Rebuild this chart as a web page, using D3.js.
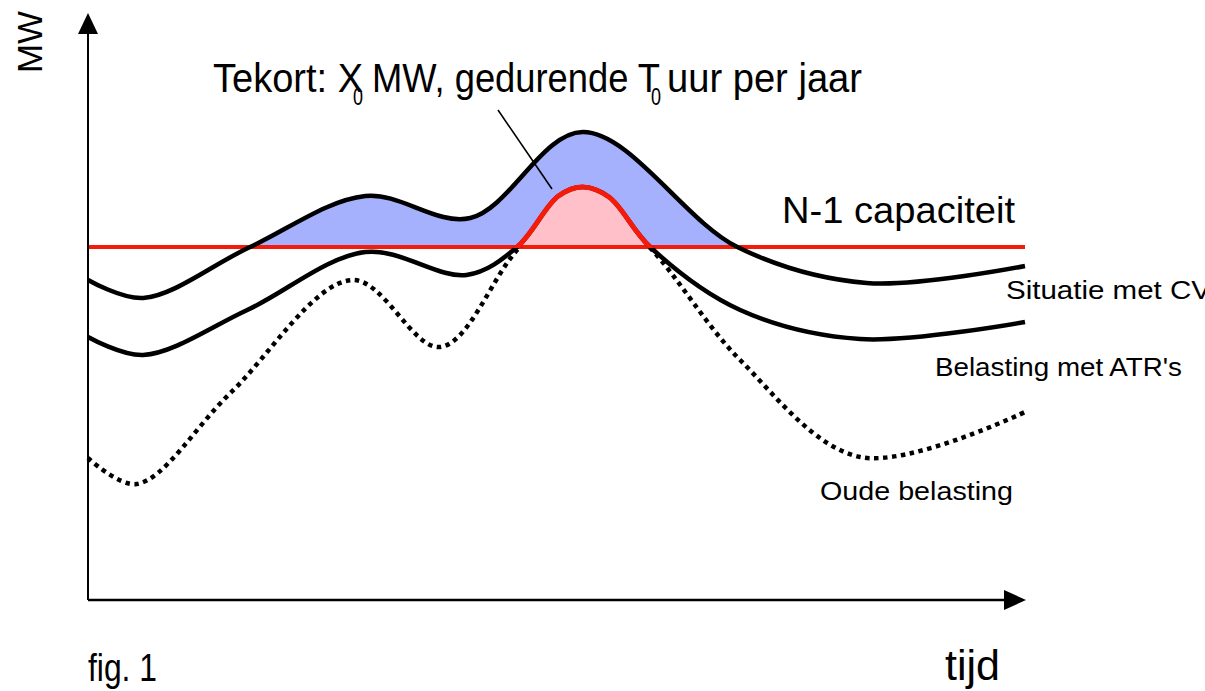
<!DOCTYPE html>
<html>
<head>
<meta charset="utf-8">
<script src="https://cdn.jsdelivr.net/npm/d3@7"></script>
<style>
  html, body { margin: 0; padding: 0; background: #fff; }
  svg { display: block; font-family: "Liberation Sans", Arial, sans-serif; }
</style>
</head>
<body>
<svg id="chart" width="1205" height="691"></svg>
<script>
// Schematic load curves: [time, MW] on an arbitrary 0-100 scale.
const situatieCV = [
  [0, 64], [5.9, 60.4], [17.3, 70.6], [29.6, 80.8], [40.8, 76.4],
  [52.8, 93.6], [69.3, 70.6], [83.1, 63.4], [100, 66.8]
];
const belastingATR = [
  [0, 52.6], [5.9, 49], [17, 58], [29.6, 69.6], [40.4, 65],
  [45.8, 70.6], [50.2, 80.8], [52.8, 82.6], [55.6, 80.6], [60, 70.6],
  [69.6, 58], [82.4, 52.2], [100, 55.6]
];
const oudeBelasting = [
  [0, 28.4], [5.2, 23.2], [15.2, 41.4], [28.2, 64], [37.6, 50.6],
  [45.8, 70], [52.8, 82.6], [60, 70.4], [69.6, 48], [82.4, 28.6], [100, 37.6]
];
const capaciteitN1 = 70.6;
const timeExtent = [0, 100];

const W = 1205, H = 691;
const svg = d3.select("#chart");

const x = d3.scaleLinear().domain(timeExtent).range([88, 1025]);
const y = d3.scaleLinear().domain([0, 100]).range([600, 100]);
const yCap = y(capaciteitN1);

const smooth = d3.curveCatmullRom.alpha(0.5);
const line = d3.line().x(d => x(d[0])).y(d => y(d[1])).curve(smooth);
const areaToCap = d3.area().x(d => x(d[0])).y0(yCap).y1(d => y(d[1])).curve(smooth);

// clip regions above / below the N-1 line
const defs = svg.append("defs");
defs.append("clipPath").attr("id", "above")
  .append("rect").attr("x", 0).attr("y", 0).attr("width", W).attr("height", yCap);
defs.append("clipPath").attr("id", "aboveOutline")
  .append("rect").attr("x", 0).attr("y", 0).attr("width", W).attr("height", yCap + 1);
defs.append("clipPath").attr("id", "below")
  .append("rect").attr("x", 0).attr("y", yCap).attr("width", W).attr("height", H - yCap);

// shortage areas
svg.append("path").datum(situatieCV)
  .attr("d", areaToCap).attr("fill", "#a6b1fd").attr("clip-path", "url(#above)");
svg.append("path").datum(belastingATR)
  .attr("d", areaToCap).attr("fill", "#ffc0c9").attr("clip-path", "url(#above)");

// N-1 capacity line
svg.append("line")
  .attr("x1", x(timeExtent[0])).attr("x2", x(timeExtent[1]))
  .attr("y1", yCap).attr("y2", yCap)
  .attr("stroke", "#f41b0a").attr("stroke-width", 4);

// load curves
svg.append("path").datum(situatieCV)
  .attr("d", line).attr("fill", "none").attr("stroke", "#000").attr("stroke-width", 4.5);
svg.append("path").datum(belastingATR)
  .attr("d", line).attr("fill", "none").attr("stroke", "#000").attr("stroke-width", 4.5);
svg.append("path").datum(oudeBelasting)
  .attr("d", line).attr("fill", "none").attr("stroke", "#000").attr("stroke-width", 4.5)
  .attr("stroke-dasharray", "4.5,4.5").attr("clip-path", "url(#below)");
// red outline of the peak above capacity
svg.append("path").datum(belastingATR)
  .attr("d", line).attr("fill", "none").attr("stroke", "#f41b0a").attr("stroke-width", 5)
  .attr("clip-path", "url(#aboveOutline)");

// leader line from the title
svg.append("line")
  .attr("x1", 498).attr("y1", 110).attr("x2", 552).attr("y2", 189)
  .attr("stroke", "#000").attr("stroke-width", 1.6);

// axes with arrow heads
const x0 = x.range()[0], y0 = y.range()[0];
svg.append("line").attr("x1", x0).attr("y1", y0).attr("x2", x0).attr("y2", 30)
  .attr("stroke", "#000").attr("stroke-width", 2);
svg.append("path").attr("d", `M${x0},13 L${x0 - 10},34 L${x0 + 10},34 Z`).attr("fill", "#000");
svg.append("line").attr("x1", x0).attr("y1", y0).attr("x2", 1008).attr("y2", y0)
  .attr("stroke", "#000").attr("stroke-width", 2.5);
svg.append("path").attr("d", `M1026,${y0} L1004,${y0 - 10} L1004,${y0 + 10} Z`).attr("fill", "#000");

// texts
function label(txt, px, py, size, len) {
  return svg.append("text")
    .attr("x", px).attr("y", py)
    .attr("font-size", size)
    .attr("textLength", len).attr("lengthAdjust", "spacingAndGlyphs")
    .attr("fill", "#000")
    .text(txt);
}

label("Tekort: X", 213, 92, 40, 150);
label("0", 353, 105, 24, 10);
label("MW, gedurende T", 372, 92, 40, 288);
label("0", 651, 105, 24, 10);
label("uur per jaar", 667, 92, 40, 195);

label("N-1 capaciteit", 782, 223, 36, 233);
label("Situatie met CV", 1006, 299, 26, 205);
label("Belasting met ATR's", 935, 376, 26, 247);
label("Oude belasting", 820, 500, 26, 193);

label("fig. 1", 88, 681, 38, 69);
label("tijd", 945, 680, 42, 55);

svg.append("text")
  .attr("transform", "translate(42,73) rotate(-90)")
  .attr("font-size", 35)
  .attr("textLength", 62).attr("lengthAdjust", "spacingAndGlyphs")
  .text("MW");
</script>
</body>
</html>
